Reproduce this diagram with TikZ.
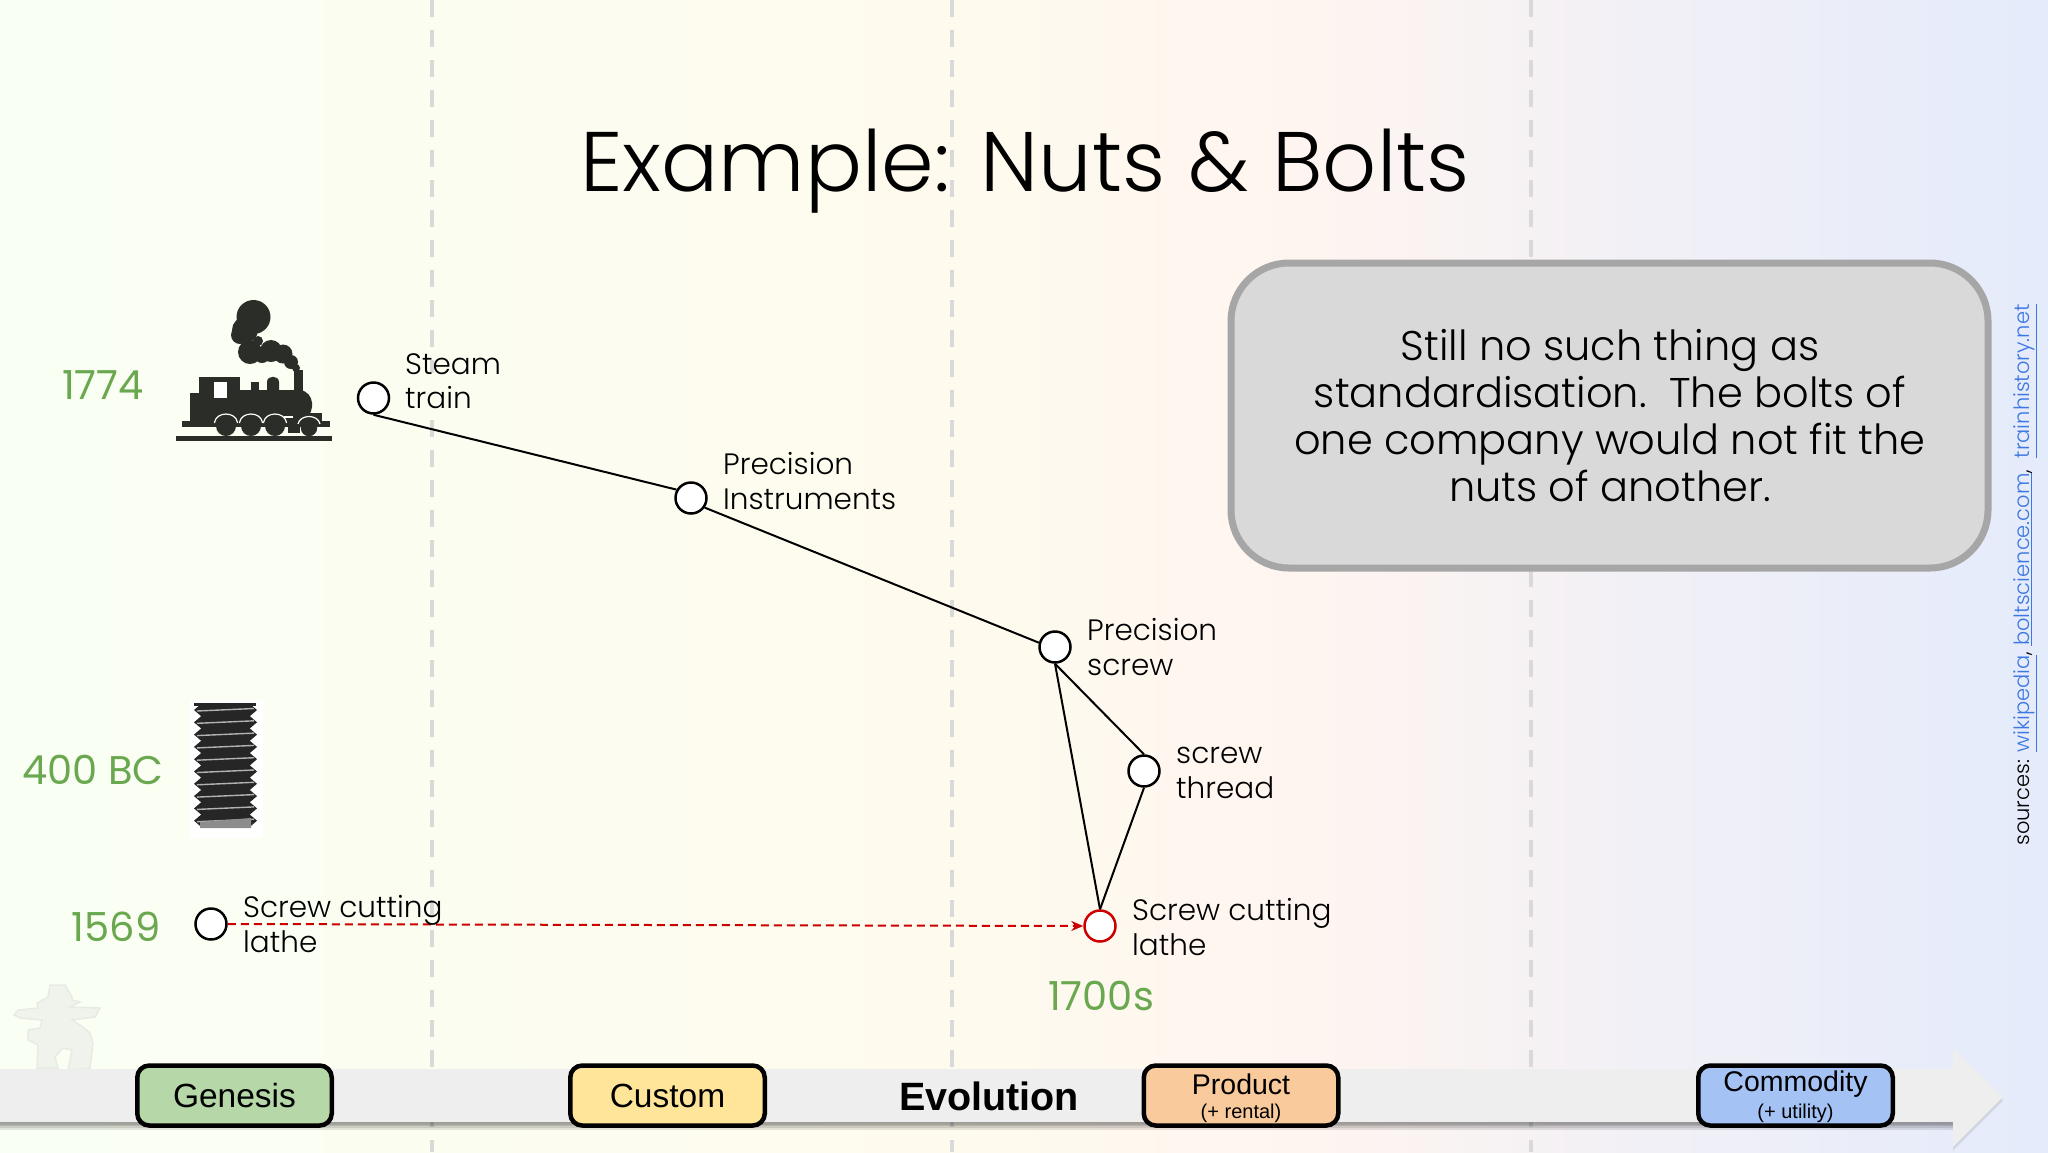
\documentclass[tikz,border=0pt]{standalone}
\usepackage{fontspec}
\setmainfont{Poppins}[UprightFont=* Light]
\newfontfamily\yearf{Poppins}
\newfontfamily\arialf{Liberation Sans}
\usetikzlibrary{arrows.meta}
\definecolor{bga}{RGB}{250,255,243}
\definecolor{bgb}{RGB}{252,253,241}
\definecolor{bgc}{RGB}{254,251,238}
\definecolor{bgd}{RGB}{255,245,240}
\definecolor{bge}{RGB}{241,240,246}
\definecolor{bgf}{RGB}{228,235,251}
\definecolor{guide}{RGB}{217,217,217}
\definecolor{yeargreen}{RGB}{106,168,79}
\definecolor{redline}{RGB}{204,0,0}
\definecolor{ink}{RGB}{43,45,40}
\definecolor{linkblue}{RGB}{60,120,225}
\definecolor{bandgray}{RGB}{238,238,238}
\tikzset{
  x=1pt,y=-1pt,
  guideline/.style={draw=guide,line width=4pt,dash pattern=on 17pt off 13pt},
  stage/.style={circle,draw=black,fill=white,line width=2.5pt,minimum size=31pt,inner sep=0pt},
  stagered/.style={stage,draw=redline},
  lab/.style={anchor=west,align=left,inner sep=0pt,font=\fontsize{29.5}{34.5}\selectfont},
  year/.style={text=yeargreen,inner sep=0pt,font=\yearf\fontsize{40}{46}\selectfont},
  link/.style={draw=black,line width=2pt},
  pill/.style={draw=black,line width=4.5pt,rounded corners=12pt,minimum height=60pt,minimum width=194.5pt,inner sep=0pt,align=center},
  pilltext/.style={inner sep=0pt,font=\arialf\fontsize{33.5}{38}\selectfont},
  pillmain/.style={inner sep=0pt,font=\arialf\fontsize{28.5}{32}\selectfont},
  pillsub/.style={inner sep=0pt,font=\arialf\fontsize{20}{24}\selectfont},
}
\newcommand{\ulink}[1]{\textcolor{linkblue}{\underline{#1}}}
\begin{document}
\begin{tikzpicture}
\useasboundingbox (0,0) rectangle (2048,1152);
% background
\shade[left color=bga,right color=bgb] (0,0) rectangle (431,1152);
\shade[left color=bgb,right color=bgc] (430,0) rectangle (951,1152);
\shade[left color=bgc,right color=bgd] (950,0) rectangle (1301,1152);
\shade[left color=bgd,right color=bge] (1300,0) rectangle (1651,1152);
\shade[left color=bge,right color=bgf] (1650,0) rectangle (2048,1152);
% guides
\draw[guideline] (432,0) -- (432,373);
\draw[guideline] (432,420) -- (432,1152);
\draw[guideline] (952,0) -- (952,1152);
\draw[guideline] (1531,0) -- (1531,1152);
% title
\node[inner sep=0pt,font=\fontsize{84.5}{96}\selectfont] (title) at (1025,171) {Example: Nuts \& Bolts};
% train
\begin{scope}[ink]
\fill (176,436) rectangle (332,441);
\fill (182,421) rectangle (330,427);
\fill (190,393) rectangle (240,421);
\fill (199,377) rectangle (240,393);
\fill (240,390) rectangle (302,421);
\fill (251,382) rectangle (258.5,390);
\fill (267,390) -- (267,382) .. controls (267,375) and (279,375) .. (279,382) -- (279,390) -- cycle;
\fill (293.5,370) rectangle (303,392);
\fill (300,390) .. controls (315,392) and (315,412) .. (306,418) -- (296,418) -- cycle;
\fill (300,413) rectangle (322,421);
\fill (288,424) rectangle (300,433);
\fill[white] (214,382) rectangle (227,398);
\foreach \wx in {226,251,275} {
  \draw[white,line width=1.2pt] (\wx-11.6,423) .. controls (\wx-10,411) and (\wx+10,411) .. (\wx+11.6,423);
  \fill (\wx,426) circle (10);
}
\draw[white,line width=1.2pt] (298,424) .. controls (300,414) and (318,414) .. (320,424);
\fill (309,428) circle (8.2);
\draw[white,line width=1.2pt] (284,417) -- (293,417);
% smoke
\fill (253.5,317) circle (17);
\fill (245,330) circle (13);
\fill (240,335) circle (9);
\fill (250,352) circle (12);
\fill (258,341) circle (5);
\fill (262,355) circle (8);
\fill (271,351) circle (11);
\fill (283,354) circle (9.5);
\fill (291,362) circle (7);
\fill (296,368) circle (4);
\end{scope}
% screw
\fill[white] (190,700) rectangle (263,838);
\fill[black!85] (201,703) rectangle (250,826);
\fill[black!85] (194,703) rectangle (256,706);
\foreach \i in {0,...,9} {
  \pgfmathsetmacro{\ty}{710+12.3*\i}
  \fill[black!85] (201,\ty-6) -- (194,\ty) -- (201,\ty+6) -- cycle;
  \fill[black!85] (250,\ty-6) -- (257,\ty) -- (250,\ty+6) -- cycle;
  \draw[black!30,line width=1.4pt] (197,\ty+1) -- (254,\ty-1.5);
}
\fill[black!45] (200,822) -- (251,818) -- (251,828) -- (200,828) -- cycle;
% inukshuk
\path[fill={rgb,255:red,240;green,242;blue,236},draw={rgb,255:red,232;green,234;blue,228},line width=1.5pt] (50,985) -- (65,985) -- (72,997) -- (72,1000) -- (80,1002) -- (70,1007) -- (100,1008) -- (95,1017) -- (72,1020) -- (83,1027) -- (90,1033) -- (93,1043) -- (90,1068) -- (68,1070) -- (72,1050) -- (63,1048) -- (55,1057) -- (58,1068) -- (37,1068) -- (38,1045) -- (28,1040) -- (28,1030) -- (40,1028) -- (42,1020) -- (20,1018) -- (14,1015) -- (18,1010) -- (38,1008) -- (37,1003) -- (48,997) -- cycle;
% arrow
\foreach \d in {1,2.5,4,6,8} {
  \fill[black,opacity=.10] (0,1115) rectangle (1953,1122+\d);
}
\foreach \d in {2,4} {
  \fill[black,opacity=.06] (1953,1048+\d) -- (2003,1097+\d) -- (1953,1147+\d) -- cycle;
}
\fill[bandgray] (0,1069) -- (1953,1069) -- (1953,1048) -- (2003,1097) -- (1953,1147) -- (1953,1122) -- (0,1122) -- cycle;
% pills
\node[pill,fill={rgb,255:red,182;green,215;blue,168}] (genesis) at (234.5,1095.5) {};
\node[pill,fill={rgb,255:red,255;green,229;blue,153}] (custom) at (667.5,1095.5) {};
\node[pill,fill={rgb,255:red,249;green,203;blue,156}] (product) at (1241,1095.5) {};
\node[pill,fill={rgb,255:red,164;green,194;blue,244}] (commodity) at (1795.5,1095.5) {};
\node[pilltext] (genesist) at (234.5,1096) {Genesis};
\node[pilltext] (customt) at (667.5,1096) {Custom};
\node[inner sep=0pt,font=\arialf\bfseries\fontsize{39.5}{44}\selectfont] (evol) at (989,1096) {Evolution};
\node[pillmain] (productt) at (1241,1084) {Product};
\node[pillsub] (products) at (1241,1113) {(+ rental)};
\node[pillmain] (commodityt) at (1795.5,1084) {Commodity};
\node[pillsub] (commoditys) at (1795.5,1113) {(+ utility)};
% note
\node[draw={rgb,255:red,166;green,166;blue,166},fill=guide,line width=7pt,rounded corners=58pt,minimum width=757pt,minimum height=305pt,inner sep=0pt] (note) at (1609.5,415.5) {};
\node[inner sep=0pt,align=center,font=\fontsize{41.5}{47}\selectfont] (notet) at (1610,415.5) {Still no such thing as\\standardisation.\ \ The bolts of\\one company would not fit the\\nuts of another.};
% stages
\node[stage] (train) at (373.5,398) {};
\node[stage] (instr) at (691,498) {};
\node[stage] (pscrew) at (1055,647) {};
\node[stage] (thread) at (1144,771) {};
\node[stagered] (lathe) at (1100,926) {};
\node[stage] (oldlathe) at (211,924) {};
\draw[link] (train.south) -- (instr.150);
\draw[link] (instr.-35) -- (pscrew.165);
\draw[link] (pscrew.south) -- (thread.north);
\draw[link] (pscrew.south) -- (lathe.north);
\draw[link] (thread.south) -- (lathe.north);
\draw[redline,line width=2pt,dash pattern=on 8pt off 5pt,-{Stealth[length=12pt,width=10pt]}] (oldlathe.east) -- (lathe.west);
% labels
\node[lab] (l1) at (405,381) {Steam\\train};
\node[lab] (l2) at (723,481) {Precision\\Instruments};
\node[lab] (l3) at (1087,647) {Precision\\screw};
\node[lab] (l4) at (1176,773) {screw\\thread};
\node[lab] (l5) at (1132,927) {Screw cutting\\lathe};
\node[lab] (l6) at (243,924) {Screw cutting\\lathe};
% years
\node[year] (y1) at (103,385) {1774};
\node[year] (y2) at (93,770) {400 BC};
\node[year] (y3) at (116,927) {1569};
\node[year] (y4) at (1101,996) {1700s};
% sources
\node[rotate=90,inner sep=0pt,anchor=center,font=\fontsize{21}{24}\selectfont] (src) at (2025,575) {sources: \ulink{wikipedia}, \ulink{boltscience.com}, \ \ulink{trainhistory.net}};
\end{tikzpicture}
\end{document}
